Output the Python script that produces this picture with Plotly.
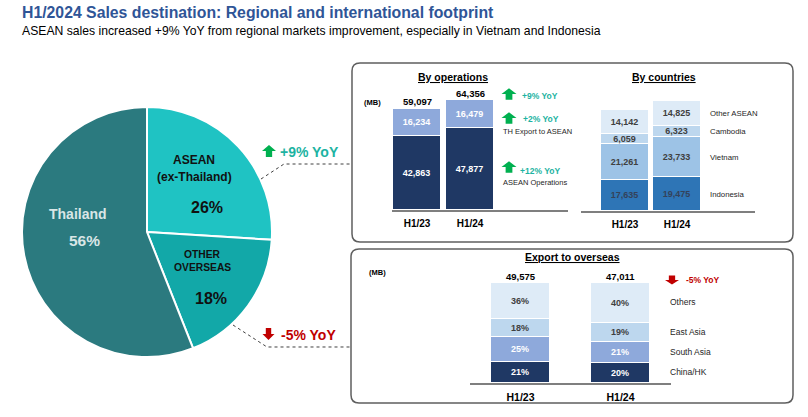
import plotly.graph_objects as go

W, H = 808, 417
FONT = "Liberation Sans, Arial, sans-serif"

# ---------------- data ----------------
title_text = "H1/2024 Sales destination: Regional and international footprint"
subtitle_text = ("ASEAN sales increased +9% YoY from regional markets improvement, "
                 "especially in Vietnam and Indonesia")

pie_labels = ["ASEAN<br>(ex-Thailand)", "OTHER<br>OVERSEAS", "Thailand"]
pie_values = [26, 18, 56]
pie_yoy = ["+9% YoY", "-5% YoY"]

periods = ["H1/23", "H1/24"]

ops_names = ["ASEAN Operations", "TH Export to ASEAN"]
ops_asean_operations = [42863, 47877]
ops_th_export = [16234, 16479]
ops_totals = [59097, 64356]
ops_yoy_total = "+9% YoY"
ops_yoy_th_export = "+2% YoY"
ops_yoy_asean_ops = "+12% YoY"

country_names = ["Indonesia", "Vietnam", "Cambodia", "Other ASEAN"]
country_indonesia = [17635, 19475]
country_vietnam = [21261, 23733]
country_cambodia = [6059, 6323]
country_other = [14142, 14825]

export_names = ["China/HK", "South Asia", "East Asia", "Others"]
export_china = [21, 20]
export_south_asia = [25, 21]
export_east_asia = [18, 19]
export_others = [36, 40]
export_totals = [49575, 47011]
export_yoy = "-5% YoY"

# ---------------- helpers ----------------
def px(x):
    return x / W


def py(y):
    return 1 - y / H


def path_from(pts, close=True):
    s = "M " + " L ".join(f"{px(x):.5f},{py(y):.5f}" for x, y in pts)
    return s + (" Z" if close else "")


def arrow_path(cx, cy, w, h, up=True):
    head = 0.5 * h
    sw = 0.45 * w
    top, bot = cy - h / 2, cy + h / 2
    if up:
        pts = [(cx, top), (cx + w / 2, top + head), (cx + sw / 2, top + head),
               (cx + sw / 2, bot), (cx - sw / 2, bot), (cx - sw / 2, top + head),
               (cx - w / 2, top + head)]
    else:
        pts = [(cx, bot), (cx + w / 2, bot - head), (cx + sw / 2, bot - head),
               (cx + sw / 2, top), (cx - sw / 2, top), (cx - sw / 2, bot - head),
               (cx - w / 2, bot - head)]
    return path_from(pts)


def rounded_box(x0, y0, x1, y1, r=8):
    P = lambda x, y: f"{px(x):.5f},{py(y):.5f}"
    return (f"M {P(x0 + r, y0)} L {P(x1 - r, y0)} Q {P(x1, y0)} {P(x1, y0 + r)} "
            f"L {P(x1, y1 - r)} Q {P(x1, y1)} {P(x1 - r, y1)} "
            f"L {P(x0 + r, y1)} Q {P(x0, y1)} {P(x0, y1 - r)} "
            f"L {P(x0, y0 + r)} Q {P(x0, y0)} {P(x0 + r, y0)} Z")


GREEN = "#00B050"
TEAL_TXT = "#1DB3A2"
RED = "#C00000"
NAVY = "#1F3864"
MIDBLUE = "#8EA9DB"
GRAYTXT = "#404040"

fig = go.Figure()

# ---------------- pie ----------------
pie_colors = ["#1FC3C3", "#12A8A8", "#2B7A7F"]
fig.add_trace(go.Pie(
    values=pie_values,
    labels=[l.replace("<br>", " ") for l in pie_labels],
    sort=False, direction="clockwise", rotation=0,
    marker=dict(colors=pie_colors, line=dict(color="white", width=2)),
    textinfo="none", hoverinfo="label+percent",
    domain=dict(x=[px(22), px(272)], y=[py(357), py(107)]),
    showlegend=False,
))

annotations = []
shapes = []


def add_text(x, y, text, size, color="black", bold=False, xanchor="center",
             xref="paper", yref="paper", yshift=0, underline=False):
    t = text
    if underline:
        t = f"<u>{t}</u>"
    if bold:
        t = f"<b>{t}</b>"
    annotations.append(dict(
        x=px(x) if xref == "paper" else x,
        y=py(y) if yref == "paper" else y,
        xref=xref, yref=yref, text=t, showarrow=False,
        xanchor=xanchor, yanchor="middle", yshift=yshift,
        font=dict(family=FONT, size=size, color=color),
    ))


# pie slice labels (line positions in px)
pie_label_pos = [
    dict(lines_y=[160, 177], x=194, size=12, pct=(207, 207, 16), color="#111111"),
    dict(lines_y=[254, 267], x=202, size=10.3, pct=(211, 298, 16), color="#111111"),
    dict(lines_y=[214], x=78, size=14, pct=(84, 241, 15.5), color="#D9E6E6"),
]
for lab, val, pos in zip(pie_labels, pie_values, pie_label_pos):
    for line, ly in zip(lab.split("<br>"), pos["lines_y"]):
        add_text(pos["x"], ly, line, pos["size"], pos["color"], bold=True)
    cx, cy, sz = pos["pct"]
    add_text(cx, cy, f"{val}%", sz, pos["color"], bold=True)

# pie YoY call-outs
add_text(278, 152, pie_yoy[0], 14, TEAL_TXT, bold=True, xanchor="left")
add_text(279, 335, pie_yoy[1], 14, RED, bold=True, xanchor="left")
shapes.append(dict(type="path", xref="paper", yref="paper",
                   path=arrow_path(269, 151, 14, 12, up=True),
                   fillcolor=GREEN, line=dict(width=0)))
shapes.append(dict(type="path", xref="paper", yref="paper",
                   path=arrow_path(268.5, 334, 12, 12, up=False),
                   fillcolor=RED, line=dict(width=0)))
shapes.append(dict(type="path", xref="paper", yref="paper",
                   path=path_from([(261, 179), (284, 164), (352, 164)], close=False),
                   line=dict(color="#404040", width=1, dash="dot")))
shapes.append(dict(type="path", xref="paper", yref="paper",
                   path=path_from([(233, 325), (267, 347), (351, 347)], close=False),
                   line=dict(color="#404040", width=1, dash="dot")))

# panel boxes
for (x0, y0, x1, y1) in [(352, 63, 793, 242), (351, 249, 793, 403)]:
    shapes.append(dict(type="path", xref="paper", yref="paper",
                       path=rounded_box(x0, y0, x1, y1, 8),
                       line=dict(color="#5F5F5F", width=1.5)))

# ---------------- by operations ----------------
K = 1.709  # px per 1000 MB
TXT9 = dict(family=FONT, size=9, weight="bold")

fig.add_trace(go.Bar(
    x=periods, y=ops_asean_operations, name=ops_names[0], xaxis="x", yaxis="y",
    width=0.906, marker=dict(color=NAVY, line=dict(color="white", width=1)),
    text=[f"{v:,}" for v in ops_asean_operations], textposition="inside",
    insidetextanchor="middle", textangle=0,
    textfont=dict(TXT9, color="white"), showlegend=False))
fig.add_trace(go.Bar(
    x=periods, y=ops_th_export, name=ops_names[1], xaxis="x", yaxis="y",
    width=0.906, marker=dict(color=MIDBLUE, line=dict(color="white", width=1)),
    text=[f"{v:,}" for v in ops_th_export], textposition="inside",
    insidetextanchor="middle", textangle=0,
    textfont=dict(TXT9, color="white"), showlegend=False))
for p, t in zip(periods, ops_totals):
    add_text(p, t, f"{t:,}", 9.5, "black", bold=True, xref="x", yref="y", yshift=7)

add_text(453, 77, "By operations", 10.5, "black", bold=True, underline=True)
add_text(372, 102, "(MB)", 7.5, "black", bold=True)
add_text(520, 96, ops_yoy_total, 8.5, TEAL_TXT, bold=True, xanchor="left")
add_text(521, 119, ops_yoy_th_export, 8.5, TEAL_TXT, bold=True, xanchor="left")
add_text(501, 131, ops_names[1], 7.5, "#262626", xanchor="left")
add_text(518, 171, ops_yoy_asean_ops, 8.5, TEAL_TXT, bold=True, xanchor="left")
add_text(501, 183, ops_names[0], 7.5, "#262626", xanchor="left")
for cy in (94, 118, 167):
    shapes.append(dict(type="path", xref="paper", yref="paper",
                       path=arrow_path(509, cy, 15, 11.5, up=True),
                       fillcolor=GREEN, line=dict(width=0)))

# ---------------- by countries ----------------
country_series = [country_indonesia, country_vietnam, country_cambodia, country_other]
country_colors = ["#2E75B6", "#9DC3E6", "#BDD7EE", "#DEEBF7"]
country_txt = ["#34425A", GRAYTXT, GRAYTXT, GRAYTXT]
for name, vals, col, tc in zip(country_names, country_series, country_colors, country_txt):
    fig.add_trace(go.Bar(
        x=periods, y=vals, name=name, xaxis="x2", yaxis="y2", width=0.904,
        marker=dict(color=col, line=dict(color="white", width=1)),
        text=[f"{v:,}" for v in vals], textposition="inside",
        insidetextanchor="middle", textangle=0,
        textfont=dict(TXT9, color=tc), showlegend=False))
cum = 0
for name, vals in zip(country_names, country_series):
    mid = cum + vals[1] / 2
    cum += vals[1]
    add_text(708, 0, name, 7.8, "#262626", xanchor="left", yref="y2")
    annotations[-1]["y"] = mid
add_text(664, 77, "By countries", 10.5, "black", bold=True, underline=True)

# ---------------- export to overseas ----------------
export_series = [export_china, export_south_asia, export_east_asia, export_others]
export_colors = [NAVY, MIDBLUE, "#BDD7EE", "#DEEBF7"]
export_txt = ["white", "white", GRAYTXT, GRAYTXT]
for name, vals, col, tc in zip(export_names, export_series, export_colors, export_txt):
    fig.add_trace(go.Bar(
        x=periods, y=vals, name=name, xaxis="x3", yaxis="y3", width=0.59,
        marker=dict(color=col, line=dict(color="white", width=1)),
        text=[f"{v}%" for v in vals], textposition="inside",
        insidetextanchor="middle", textangle=0,
        textfont=dict(TXT9, color=tc), showlegend=False))
cum = 0
for name, vals in zip(export_names, export_series):
    mid = cum + vals[1] / 2
    cum += vals[1]
    add_text(668, 0, name, 8.5, "#262626", xanchor="left", yref="y3", yshift=1)
    annotations[-1]["y"] = mid
for i, (p, t) in enumerate(zip(periods, export_totals)):
    top = sum(s[i] for s in export_series)
    add_text(p, top, f"{t:,}", 9.5, "black", bold=True, xref="x3", yref="y3", yshift=7)
add_text(572, 257, "Export to overseas", 10.5, "black", bold=True, underline=True)
add_text(377, 272, "(MB)", 7.5, "black", bold=True)
add_text(684, 280, export_yoy, 8.5, RED, bold=True, xanchor="left")
shapes.append(dict(type="path", xref="paper", yref="paper",
                   path=arrow_path(672, 280, 14, 9, up=False),
                   fillcolor=RED, line=dict(width=0)))

# ---------------- titles ----------------
add_text(20, 12, title_text, 15.8, "#2F5597", bold=True, xanchor="left")
add_text(20, 31, subtitle_text, 12.2, "black", xanchor="left")

# ---------------- axes ----------------
def xaxis_cfg(x0, x1, rng, anchor, size):
    return dict(domain=[px(x0), px(x1)], range=rng, type="category", anchor=anchor,
                showline=True, linecolor="#7F7F7F", linewidth=2, showgrid=False,
                zeroline=False, ticks="", ticklabelstandoff=3, fixedrange=True,
                tickfont=dict(family=FONT, size=size, color="black", weight="bold"))


def yaxis_cfg(y_base, y_top, rng, anchor):
    return dict(domain=[py(y_base), py(y_top)], range=rng, anchor=anchor,
                visible=False, fixedrange=True)


fig.update_layout(
    width=W, height=H, margin=dict(l=0, r=0, t=0, b=0),
    paper_bgcolor="white", plot_bgcolor="rgba(0,0,0,0)",
    barmode="stack", bargap=0,
    uniformtext=dict(minsize=9, mode="show"),
    xaxis=xaxis_cfg(392, 568, [-0.4717, 2.849], "y", 10),
    yaxis=yaxis_cfg(210, 210 - 70 * K, [0, 70000], "x"),
    xaxis2=xaxis_cfg(581, 755, [-0.846, 2.5], "y2", 10),
    yaxis2=yaxis_cfg(211, 211 - 70 * K, [0, 70000], "x2"),
    xaxis3=xaxis_cfg(470, 671, [-0.505, 1.505], "y3", 10.5),
    yaxis3=yaxis_cfg(383, 283, [0, 100], "x3"),
    annotations=annotations, shapes=shapes,
    font=dict(family=FONT),
)

fig.write_html("out.html", config={"displayModeBar": False},
               post_script="document.body.style.margin='0px';")
